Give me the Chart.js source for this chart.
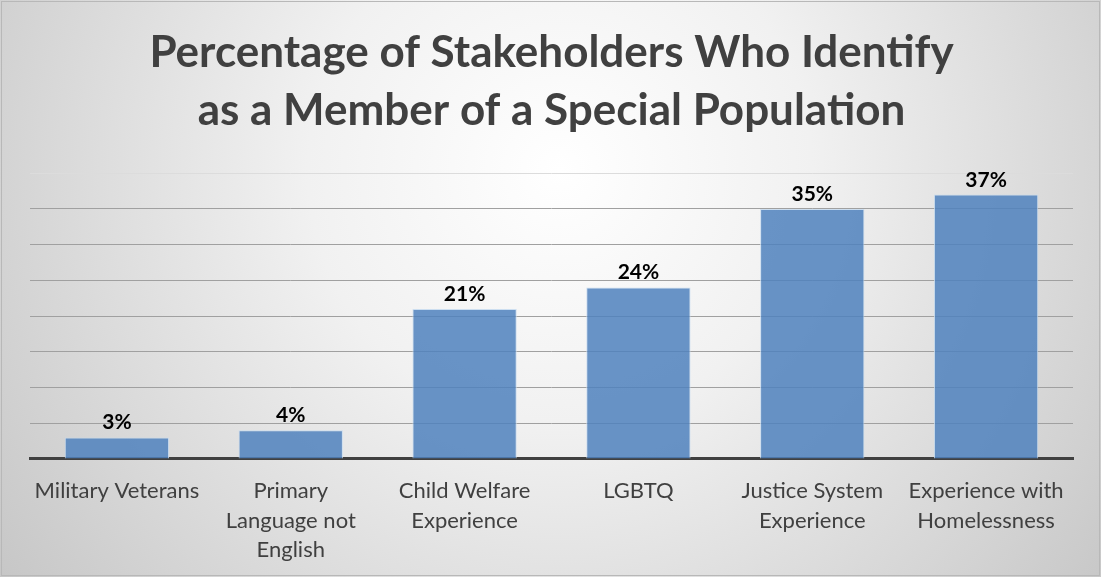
<!DOCTYPE html>
<html>
<head>
<meta charset="utf-8">
<script src="https://cdn.jsdelivr.net/npm/chart.js@4"></script>
<style>
  html, body { margin: 0; padding: 0; background: #fff; }
  #wrap { width: 1101px; height: 577px; position: relative; }
</style>
</head>
<body>
<div id="wrap"><canvas id="chart"></canvas></div>
<script>
const categories = [
  "Military Veterans",
  ["Primary", "Language not", "English"],
  ["Child Welfare", "Experience"],
  "LGBTQ",
  ["Justice System", "Experience"],
  ["Experience with", "Homelessness"]
];
const percentages = [3, 4, 21, 24, 35, 37];
const titleLines = [
  "Percentage of Stakeholders Who Identify",
  "as a Member of a Special Population"
];

const textGray = "#404040";
const fontFamily = "Lato, 'Open Sans', sans-serif";

// soft grey vignette behind everything, plus the thin outer frame
const backdrop = {
  id: "backdrop",
  beforeDraw(chart) {
    const { ctx, width, height } = chart;
    ctx.save();
    const g = ctx.createRadialGradient(560, 170, 0, 560, 170, 720);
    g.addColorStop(0, "#ffffff");
    g.addColorStop(0.35, "#f1f1f1");
    g.addColorStop(1, "#c4c4c4");
    ctx.fillStyle = g;
    ctx.fillRect(0, 0, width, height);
    ctx.strokeStyle = "#b8b8b8";
    ctx.lineWidth = 1;
    ctx.strokeRect(1.5, 1.5, width - 3, height - 3);
    ctx.restore();
  }
};

// percentage label above each bar
const valueLabels = {
  id: "valueLabels",
  afterDatasetsDraw(chart) {
    const { ctx } = chart;
    const meta = chart.getDatasetMeta(0);
    ctx.save();
    ctx.font = "bold 21px " + fontFamily;
    ctx.fillStyle = "#000";
    ctx.textAlign = "center";
    ctx.textBaseline = "alphabetic";
    meta.data.forEach((bar, i) => {
      ctx.fillText(percentages[i] + "%", bar.x, bar.y - 8);
    });
    ctx.restore();
  }
};

new Chart(document.getElementById("chart"), {
  type: "bar",
  data: {
    labels: categories,
    datasets: [{
      data: percentages,
      backgroundColor: "rgba(79, 129, 189, 0.85)",
      borderColor: "rgba(200, 220, 240, 0.9)",
      borderWidth: 1,
      barPercentage: 0.6,
      categoryPercentage: 1
    }]
  },
  options: {
    responsive: true,
    maintainAspectRatio: false,
    animation: false,
    layout: { padding: { left: 30, right: 28, top: 8, bottom: 3 } },
    plugins: {
      legend: { display: false },
      tooltip: { enabled: false },
      title: {
        display: true,
        text: titleLines,
        color: textGray,
        font: { family: fontFamily, size: 44, weight: "bold", lineHeight: 1.32 },
        padding: { top: 16, bottom: 33 }
      }
    },
    scales: {
      x: {
        grid: { display: false },
        border: { display: true, color: "#404040", width: 3 },
        ticks: {
          color: textGray,
          font: { family: fontFamily, size: 22, lineHeight: 1.32 },
          padding: 10,
          maxRotation: 0,
          autoSkip: false
        }
      },
      y: {
        min: 0,
        max: 40,
        ticks: { display: false, stepSize: 5 },
        border: { display: false },
        grid: {
          drawTicks: false,
          lineWidth: 1,
          color: (c) => (c.tick && c.tick.value === 40 ? "#dcdcdc" : "#a0a0a0")
        }
      }
    }
  },
  plugins: [backdrop, valueLabels]
});
</script>
</body>
</html>
